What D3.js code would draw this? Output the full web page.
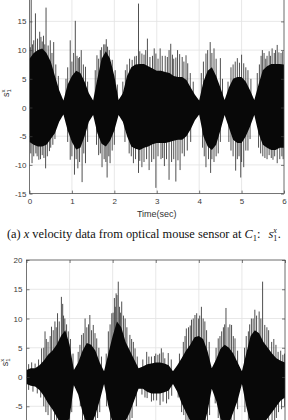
<!DOCTYPE html>
<html>
<head>
<meta charset="utf-8">
<script src="https://cdn.jsdelivr.net/npm/d3@7"></script>
<style>
  body { margin: 0; background: #fff; }
  svg { display: block; }
</style>
</head>
<body>
<div id="chart"></div>
<script>
// envelope readings are taken every 0.1 s, 0 .. 6 s
const sampleTimes = d3.range(61).map(i => i / 10);

const xTicks = [0, 1, 2, 3, 4, 5, 6];
const yTicks = [-15, -10, -5, 0, 5, 10, 15, 20];

// panel (a): x velocity s1x, top / bottom edge of the dense black core
const xVelHi = [8.5, 9.5, 10, 10.3, 9.5, 8, 5.5, 3, 1.2,
                4, 5.5, 6.4, 6, 4.5, 2.5, 1.2,
                5, 8.5, 9.8, 8.5, 5.5, 1.3,
                2.5, 5.5, 7, 7.5, 7.6, 7.6, 7.2, 6.8, 6.4, 6.4, 6.2, 6, 5.5, 5.3, 5.3, 4.8, 3.5, 2.2, 1.2,
                4.5, 6.4, 7, 5.5, 3.5, 1.3,
                3.5, 5, 5.3, 5.3, 4.5, 3, 1.3,
                4, 6.5, 7.2, 7.6, 7.6, 7.6, 7.5];
const xVelLo = [-6, -6.5, -6.8, -6.8, -6.5, -5.5, -4.5, -2.5, -1.2,
                -4, -6, -7.3, -7, -5, -2.5, -1.3,
                -4.5, -6.3, -6.8, -5.8, -4, -1.3,
                -2.5, -5, -6.8, -7.2, -7.4, -7, -6.8, -6.4, -6.2, -6.2, -6.2, -6, -5.8, -5.6, -5.6, -5, -3.8, -2.2, -1.2,
                -5, -6.8, -7.4, -6.5, -4, -1.3,
                -3.5, -5.6, -6.2, -6.2, -5, -3.3, -1.3,
                -4.5, -6.5, -7, -7.4, -7.4, -7, -7];
// single spikes sticking out of the core: [time, value]
const xVelSpikes = [
  [0.04, 19], [0.1, 11.7], [0.14, 16.4], [0.24, 13.2], [0.27, 12.3], [0.33, 12.5], [0.39, 17.4], [0.49, 11.7], [0.57, 11.4],
  [0.9, 7], [0.96, 11.7], [1.08, 15.1], [1.15, 8.6], [1.22, 10], [1.32, 7.1],
  [1.59, 9.1], [1.67, 10], [1.75, 11], [1.81, 11.9], [1.84, 10.6], [1.95, 8.3],
  [2.3, 7.5], [2.42, 8.3], [2.48, 8.9], [2.57, 18.1], [2.65, 9.4], [2.78, 12], [2.9, 9], [2.98, 9.4], [3.08, 10.3],
  [3.2, 9], [3.33, 11.1], [3.4, 8.5], [3.49, 10], [3.6, 8.8], [3.69, 9.1], [3.73, 7.7],
  [4.1, 8], [4.16, 9.4], [4.26, 11.4], [4.35, 10.3], [4.5, 8.6],
  [4.75, 7], [4.9, 8.6], [5.0, 9.2], [5.05, 7.7], [5.15, 6.5],
  [5.42, 7.5], [5.49, 10], [5.6, 9], [5.72, 10.3], [5.84, 10.9], [5.93, 9.5],
  [0.02, 10.5], [0.07, 11], [0.19, 12], [0.3, 11.5], [0.36, 11], [0.44, 10.8], [0.53, 9.5], [0.62, 7.5], [0.68, 5.5],
  [0.86, 5], [1.0, 8], [1.04, 9.5], [1.12, 9], [1.18, 8.8], [1.27, 7.5], [1.37, 4.5],
  [1.55, 6.5], [1.63, 8.5], [1.7, 10.5], [1.78, 11], [1.88, 10], [2.02, 6.5], [2.07, 4],
  [2.2, 4.5], [2.26, 6.5], [2.36, 8.5], [2.52, 9], [2.6, 9.8], [2.7, 9.2], [2.74, 10], [2.84, 8.8], [2.94, 10.3],
  [3.03, 8.5], [3.13, 9], [3.25, 8.8], [3.29, 10], [3.37, 9.2], [3.45, 8.7], [3.54, 9.3], [3.64, 8], [3.79, 6], [3.86, 4.5],
  [4.05, 6], [4.2, 10], [4.3, 9.5], [4.4, 8.5], [4.55, 5],
  [4.68, 4.5], [4.8, 7.5], [4.85, 8], [4.95, 7.8], [5.1, 7], [5.22, 5],
  [5.37, 6], [5.46, 9], [5.53, 9.5], [5.57, 8.5], [5.65, 9.8], [5.68, 9], [5.77, 9.5], [5.8, 10], [5.88, 9.6], [5.97, 9.8],
  [0.06, -9.7], [0.15, -8], [0.22, -9.1], [0.3, -8.3], [0.38, -10.6], [0.47, -7.6], [0.55, -6.5],
  [0.96, -9.1], [1.06, -11.7], [1.14, -10.6], [1.24, -13], [1.32, -9.7],
  [1.63, -8.3], [1.71, -10.4], [1.83, -12.2], [1.9, -9.7], [2.0, -6.5],
  [2.35, -8], [2.45, -9.7], [2.57, -11.4], [2.65, -10.4], [2.82, -10.9], [2.98, -14], [3.1, -9], [3.18, -10.2],
  [3.29, -12.6], [3.45, -12.9], [3.55, -10.9], [3.65, -8.5],
  [4.16, -10.4], [4.27, -11.4], [4.35, -9.5], [4.45, -8],
  [4.8, -8.5], [4.86, -11], [4.98, -12.2], [5.05, -10.4], [5.15, -7.5],
  [5.5, -8.5], [5.65, -8.3], [5.74, -9.1], [5.84, -9.7], [5.95, -8.5],
  [0.03, -8], [0.1, -8.5], [0.18, -8.5], [0.26, -9], [0.34, -8.8], [0.42, -8.5], [0.5, -7], [0.6, -5.5],
  [0.9, -6], [1.0, -8.5], [1.1, -9], [1.18, -9.5], [1.28, -8], [1.37, -6],
  [1.58, -6.5], [1.67, -8], [1.76, -9], [1.8, -9.5], [1.87, -8.5], [1.95, -7.5],
  [2.25, -6], [2.4, -8.5], [2.5, -9], [2.6, -9.3], [2.7, -9.5], [2.76, -9], [2.88, -9.5], [2.93, -9],
  [3.03, -8.5], [3.14, -8.8], [3.23, -9], [3.35, -9.5], [3.4, -9], [3.5, -9.2], [3.6, -8], [3.72, -7.5], [3.8, -6],
  [4.08, -7], [4.12, -8.5], [4.22, -9], [4.3, -9], [4.4, -8.5], [4.5, -6],
  [4.7, -6], [4.75, -7.5], [4.9, -9], [4.94, -8.5], [5.0, -9.5], [5.1, -7.5], [5.2, -5.5],
  [5.4, -7], [5.45, -8], [5.55, -8.8], [5.6, -9], [5.7, -8.8], [5.78, -8.5], [5.9, -9], [5.98, -9]
];

// panel (b): second sensor signal
const yVelHi = [1.2, 1.5, 1.5, 2, 2.8, 3.8, 4.5, 5.5, 7, 8,
                5.5, 1.2, 2.5, 4.5, 5.8, 5.5, 4.5, 2.5, 1, 4,
                7, 9.5, 8.5, 6, 4.5, 3, 1.5, 1.8, 2.2, 2.3,
                2.5, 2.5, 2.3, 2, 1, 2, 3.2, 4.5, 5.5, 6.8,
                7, 6.5, 4.5, 1.5, 3, 4.8, 5.5, 5, 4, 2.5,
                1, 4, 7, 8, 7.5, 6, 5, 4, 3.2, 2.8, 2.5];
const yVelLo = [-1.2, -1.5, -1.6, -2.2, -3.2, -4.5, -5.5, -6.8, -8, -8.5,
                -7, -1.4, -3, -6, -8, -8, -6.5, -4, -1.2, -5,
                -8, -9.5, -9, -7.5, -6, -4, -2, -2, -2.5, -2.8,
                -2.8, -2.8, -2.6, -2.3, -1.2, -2.5, -4.5, -6, -7.5, -8.5,
                -9, -8.5, -6, -2, -4, -7, -8.5, -8, -6, -4,
                -1.2, -5, -8, -9, -9, -8, -7, -6, -5, -4, -3.5];
const yVelSpikes = [
  [0.35, 4.9], [0.43, 7.8], [0.5, 6], [0.58, 8.6], [0.66, 9.5], [0.72, 10.9], [0.81, 13.7], [0.84, 12.5], [0.89, 10], [0.97, 7.8],
  [1.2, 4.3], [1.28, 7.2], [1.36, 10], [1.47, 10.6], [1.55, 8.9], [1.63, 6.6],
  [1.9, 7.8], [1.98, 10.9], [2.04, 13.5], [2.08, 14.3], [2.1, 14], [2.13, 16.3], [2.21, 12.9], [2.29, 10], [2.4, 7.2], [2.52, 4.9],
  [2.79, 4.3], [2.9, 3.5], [3.05, 3.8], [3.13, 4.9], [3.21, 3.2], [3.29, 4.1],
  [3.64, 6], [3.71, 8.3], [3.83, 9.8], [3.91, 10.6], [3.95, 10.9], [4.06, 12], [4.14, 9.5],
  [4.45, 6.6], [4.53, 7.8], [4.63, 11.8], [4.76, 8.9], [4.84, 6.6],
  [5.15, 7.8], [5.22, 10], [5.3, 11.5], [5.4, 11.2], [5.48, 16.3], [5.53, 8.9], [5.69, 6], [5.84, 4.3], [5.95, 3.8],
  [0.05, 2.2], [0.12, 2.5], [0.2, 2.3], [0.28, 3], [0.4, 5], [0.46, 6.5], [0.55, 7], [0.62, 8], [0.69, 8.5], [0.76, 9.5],
  [0.86, 10.5], [0.93, 9], [1.02, 6.5], [1.08, 4],
  [1.24, 5.5], [1.32, 7.5], [1.4, 8.5], [1.44, 9], [1.51, 8], [1.59, 7.5], [1.68, 5], [1.74, 3.5],
  [1.85, 4], [1.94, 9], [2.01, 11], [2.06, 12], [2.16, 12], [2.18, 11], [2.25, 10.5], [2.33, 8.5], [2.44, 6.5], [2.48, 6], [2.57, 3.5],
  [2.7, 3], [2.84, 3.5], [2.97, 3.6], [3.0, 4], [3.09, 4], [3.17, 4.2], [3.36, 3],
  [3.55, 4], [3.68, 7], [3.76, 8.5], [3.8, 8.8], [3.87, 10], [3.99, 10], [4.02, 10.5], [4.1, 10], [4.18, 8], [4.24, 6],
  [4.4, 5], [4.49, 7], [4.57, 8.5], [4.6, 9], [4.68, 8.5], [4.72, 9], [4.8, 7], [4.9, 4.5],
  [5.06, 5], [5.1, 7], [5.18, 9], [5.26, 10], [5.34, 10.5], [5.44, 10], [5.58, 8.5], [5.62, 8], [5.74, 6.5], [5.79, 5.5], [5.9, 4.5], [5.99, 4],
  [0.5, -6.5], [0.65, -9], [0.75, -11], [0.9, -12], [1.0, -9],
  [1.3, -8], [1.45, -11], [1.55, -10], [1.65, -7],
  [1.95, -9], [2.1, -12], [2.2, -11], [2.35, -9], [2.45, -7],
  [2.75, -3.5], [2.9, -4.2], [3.1, -4.8], [3.25, -4.5],
  [3.6, -6], [3.75, -9], [3.9, -10.5], [4.05, -11], [4.2, -8],
  [4.45, -7], [4.6, -10.5], [4.75, -9],
  [5.15, -8], [5.3, -11], [5.4, -12], [5.55, -10], [5.7, -8], [5.85, -6],
  [0.05, -2.2], [0.15, -2.5], [0.25, -2.8], [0.33, -3.5], [0.4, -5], [0.45, -6], [0.57, -7.5], [0.7, -9], [0.8, -10],
  [0.86, -10.5], [0.95, -9.5], [1.05, -6],
  [1.25, -5], [1.35, -9], [1.4, -10], [1.5, -10], [1.6, -8], [1.7, -6],
  [1.86, -5], [2.0, -10], [2.05, -11], [2.15, -11.5], [2.25, -10], [2.3, -9], [2.4, -8], [2.55, -5],
  [2.68, -3], [2.8, -3.6], [2.95, -4], [3.02, -4], [3.17, -4.2], [3.3, -3.8], [3.37, -3.2],
  [3.52, -3.5], [3.65, -6.5], [3.7, -7.5], [3.8, -9.5], [3.85, -10], [3.96, -10.5], [4.1, -10], [4.15, -9.5], [4.25, -6.5],
  [4.38, -4.5], [4.5, -8], [4.55, -9.5], [4.65, -10], [4.7, -9.5], [4.82, -7.5], [4.9, -5.5],
  [5.07, -6], [5.2, -9.5], [5.25, -10.5], [5.35, -10.5], [5.45, -10.5], [5.5, -10], [5.62, -9], [5.76, -7.5], [5.8, -7], [5.92, -5.5], [5.99, -5]
];

const width = 288, height = 420;
const sans = "'Liberation Sans', Arial, Helvetica, sans-serif";
const serif = "'Liberation Serif', 'Times New Roman', serif";

const svg = d3.select("#chart")
    .append("svg")
    .attr("width", width)
    .attr("height", height)
    .attr("viewBox", [0, 0, width, height]);

function drawPanel(p) {
    const x = d3.scaleLinear().domain([0, 6]).range([p.left, p.right]);
    const y = d3.scaleLinear().domain([-15, 20]).range([p.bottom, p.top]);
    const g = svg.append("g");

    // light grid
    g.append("g").selectAll("line").data(xTicks).join("line")
        .attr("x1", d => x(d)).attr("x2", d => x(d))
        .attr("y1", y(-15)).attr("y2", y(20))
        .attr("stroke", "#e2e2e2").attr("stroke-width", 0.8);
    g.append("g").selectAll("line").data(yTicks).join("line")
        .attr("x1", x(0)).attr("x2", x(6))
        .attr("y1", d => y(d)).attr("y2", d => y(d))
        .attr("stroke", "#e2e2e2").attr("stroke-width", 0.8);

    svg.append("clipPath").attr("id", "clip-" + p.id)
        .append("rect")
        .attr("x", x(0)).attr("y", y(20))
        .attr("width", x(6) - x(0)).attr("height", y(-15) - y(20));

    const plot = g.append("g").attr("clip-path", `url(#clip-${p.id})`);

    // spikes first, the black core goes on top of them
    plot.append("g").selectAll("line").data(p.spikes).join("line")
        .attr("x1", d => x(d[0])).attr("x2", d => x(d[0]))
        .attr("y1", y(0)).attr("y2", d => y(d[1]))
        .attr("stroke", "#3c3c3c").attr("stroke-width", 0.9);

    const rows = sampleTimes.map((t, i) => ({ t: t, hi: p.hi[i], lo: p.lo[i] }));
    plot.append("path")
        .datum(rows)
        .attr("fill", "#080808")
        .attr("d", d3.area()
            .x(d => x(d.t))
            .y0(d => y(d.lo))
            .y1(d => y(d.hi)));

    // axes, ticks pointing inward like matlab
    const axStyle = a => a.call(s => s.select(".domain").remove())
        .call(s => s.selectAll("line").attr("stroke", "#444").attr("stroke-width", 0.7))
        .call(s => s.selectAll("text").attr("fill", "#3a3a3a")
            .attr("font-family", sans).attr("font-size", 8));

    // the lower panel's time labels lie below the page, so they are left out
    g.append("g").attr("transform", `translate(0,${y(-15)})`)
        .call(d3.axisBottom(x).tickValues(xTicks).tickSize(-3).tickPadding(5)
            .tickFormat(p.timeLabels ? d3.format("d") : ""))
        .call(axStyle);
    g.append("g").attr("transform", `translate(0,${y(20)})`)
        .call(d3.axisTop(x).tickValues(xTicks).tickSize(-3).tickFormat(""))
        .call(axStyle);
    g.append("g").attr("transform", `translate(${x(0)},0)`)
        .call(d3.axisLeft(y).tickValues(yTicks).tickSize(-3).tickPadding(p.padLeft)
            .tickFormat(d => (y(d) > 2 && y(d) < height - 2) ? d : ""))
        .call(axStyle);
    g.append("g").attr("transform", `translate(${x(6)},0)`)
        .call(d3.axisRight(y).tickValues(yTicks).tickSize(-3).tickFormat(""))
        .call(axStyle);

    g.append("rect")
        .attr("x", x(0)).attr("y", y(20))
        .attr("width", x(6) - x(0)).attr("height", y(-15) - y(20))
        .attr("fill", "none").attr("stroke", "#444").attr("stroke-width", 0.7);

    // y label  s_1^x
    const lab = g.append("text")
        .attr("transform", `translate(${p.labelX},${(y(-15) + y(20)) / 2}) rotate(-90)`)
        .attr("text-anchor", "middle")
        .attr("font-family", sans).attr("font-size", 9).attr("fill", "#333");
    lab.append("tspan").text("s");
    lab.append("tspan").attr("font-size", 6).attr("dy", 2).text("1");
    lab.append("tspan").attr("font-size", 6).attr("dx", -3.3).attr("dy", -6).text("x");
}

drawPanel({ id: "a", left: 29.5, right: 284, top: -7.3, bottom: 193.6,
            hi: xVelHi, lo: xVelLo, spikes: xVelSpikes, padLeft: 3, labelX: 9, timeLabels: true });
drawPanel({ id: "b", left: 26.5, right: 285, top: 260, bottom: 464.8,
            hi: yVelHi, lo: yVelLo, spikes: yVelSpikes, padLeft: 4, labelX: 8, timeLabels: false });

svg.append("text")
    .attr("x", (29.5 + 284) / 2).attr("y", 217)
    .attr("text-anchor", "middle")
    .attr("font-family", sans).attr("font-size", 9).attr("fill", "#333")
    .text("Time(sec)");

// caption under panel (a)
const cap = svg.append("text")
    .attr("x", 7).attr("y", 238)
    .attr("font-family", serif).attr("font-size", 12.5).attr("fill", "#111");
cap.append("tspan").text("(a) ");
cap.append("tspan").attr("font-style", "italic").text("x");
cap.append("tspan").text(" velocity data from optical mouse sensor at ");
cap.append("tspan").attr("font-style", "italic").text("C");
cap.append("tspan").attr("font-size", 8.5).attr("dy", 3).text("1");
cap.append("tspan").attr("dy", -3).text(":");
cap.append("tspan").attr("dx", 8).attr("font-style", "italic").text("s");
cap.append("tspan").attr("font-size", 8).attr("dy", 3).text("1");
cap.append("tspan").attr("font-size", 8).attr("font-style", "italic").attr("dx", -4).attr("dy", -8).text("x");
cap.append("tspan").attr("dx", 1).attr("dy", 5).text(".");

// fit caption to the width it takes in the picture (x 7 .. 283)
const capW = cap.node().getBBox().width;
if (capW > 0) cap.attr("font-size", 12.5 * 274 / capW);
</script>
</body>
</html>
